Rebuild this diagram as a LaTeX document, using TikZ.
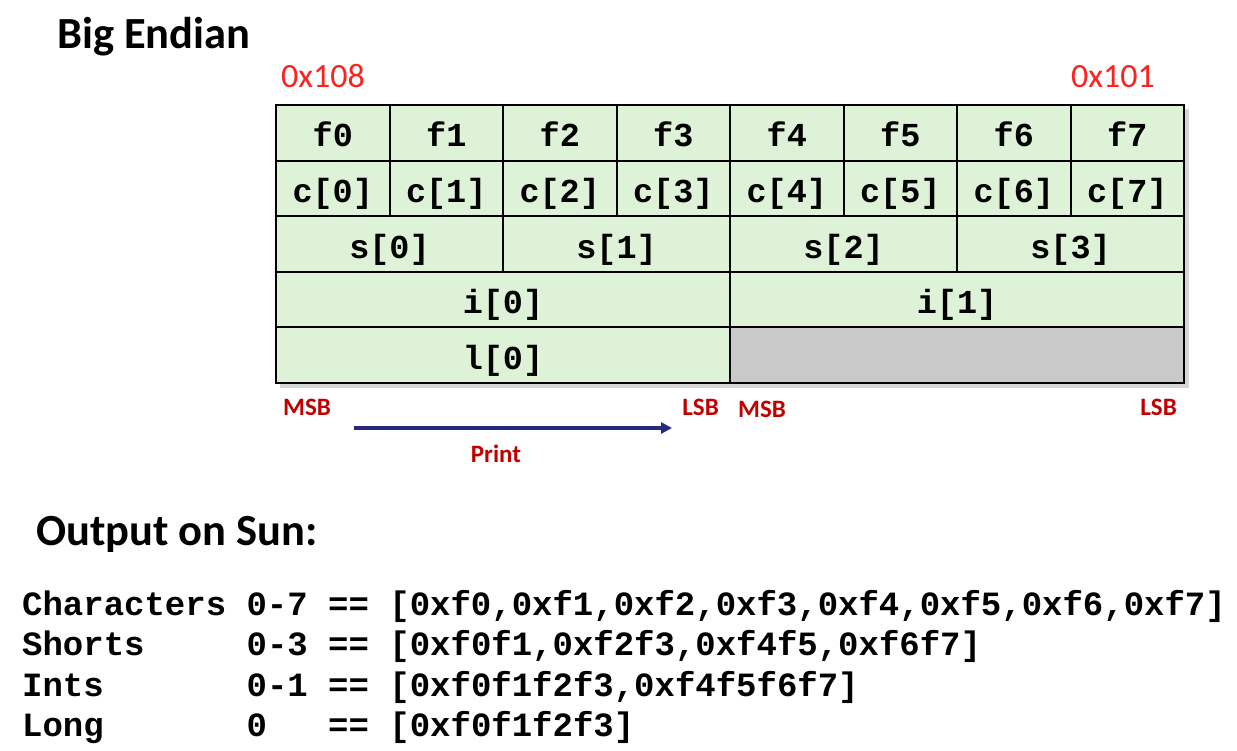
\documentclass[tikz,border=0pt]{standalone}
\usepackage{fontspec}
\setmainfont{Carlito}
\newfontfamily\codefont[WordSpace={1,0,0}]{Liberation Mono}
\usetikzlibrary{positioning,arrows.meta}

\definecolor{cellgreen}{HTML}{DDF2D7}
\definecolor{padgray}{HTML}{C9C9C9}
\definecolor{addrred}{HTML}{FF2020}
\definecolor{bitred}{HTML}{C00000}
\definecolor{printblue}{HTML}{242A7C}

\tikzset{
  cell/.style={draw, line width=2pt, fill=cellgreen, minimum height=55.6pt,
    inner sep=0pt, outer sep=0pt, text height=28pt, text depth=0pt,
    font=\codefont\bfseries\fontsize{33.5}{38}\selectfont},
  bytecell/.style={cell, minimum width=113.5pt},
  shortcell/.style={cell, minimum width=227pt},
  intcell/.style={cell, minimum width=454pt},
  heading/.style={inner sep=0pt, font=\bfseries\fontsize{44.5}{52}\selectfont},
  addr/.style={inner sep=0pt, text=addrred, font=\fontsize{34}{40}\selectfont},
  bitlabel/.style={inner sep=0pt, text=bitred, font=\bfseries\fontsize{25}{30}\selectfont},
  result/.style={inner sep=0pt, anchor=base west, font=\codefont\bfseries\fontsize{34}{40}\selectfont}
}

\begin{document}
\begin{tikzpicture}[x=1pt, y=-1pt]
    \useasboundingbox (0,0) rectangle (1237,750);
    % Title
    \node[heading, anchor=base west] (title) at (57,48) {Big Endian};
    % Addresses
    \node[addr, anchor=base west] (hiaddr) at (281,87) {0x108};
    \node[addr, anchor=base east] (loaddr) at (1155,87) {0x101};
    % Shadow
    \fill[black!16] (280,109) rectangle (1189,388);
    % Bytes
    \node[bytecell, anchor=north west] (f0) at (276,105) {f0};
    \node[bytecell, right=0pt of f0] (f1) {f1};
    \node[bytecell, right=0pt of f1] (f2) {f2};
    \node[bytecell, right=0pt of f2] (f3) {f3};
    \node[bytecell, right=0pt of f3] (f4) {f4};
    \node[bytecell, right=0pt of f4] (f5) {f5};
    \node[bytecell, right=0pt of f5] (f6) {f6};
    \node[bytecell, right=0pt of f6] (f7) {f7};
    % Chars
    \node[bytecell, below=0pt of f0] (c0) {c[0]};
    \node[bytecell, right=0pt of c0] (c1) {c[1]};
    \node[bytecell, right=0pt of c1] (c2) {c[2]};
    \node[bytecell, right=0pt of c2] (c3) {c[3]};
    \node[bytecell, right=0pt of c3] (c4) {c[4]};
    \node[bytecell, right=0pt of c4] (c5) {c[5]};
    \node[bytecell, right=0pt of c5] (c6) {c[6]};
    \node[bytecell, right=0pt of c6] (c7) {c[7]};
    % Shorts
    \node[shortcell, anchor=north west] (s0) at (c0.south west) {s[0]};
    \node[shortcell, right=0pt of s0] (s1) {s[1]};
    \node[shortcell, right=0pt of s1] (s2) {s[2]};
    \node[shortcell, right=0pt of s2] (s3) {s[3]};
    % Ints
    \node[intcell, anchor=north west] (i0) at (s0.south west) {i[0]};
    \node[intcell, right=0pt of i0] (i1) {i[1]};
    % Long
    \node[intcell, anchor=north west] (l0) at (i0.south west) {l[0]};
    \node[intcell, fill=padgray, right=0pt of l0] (pad) {};
    % Byte order
    \node[bitlabel, anchor=base west] (msb1) at (283,415) {MSB};
    \node[bitlabel, anchor=base east] (lsb1) at (719,415) {LSB};
    \node[bitlabel, anchor=base west] (msb2) at (738,417) {MSB};
    \node[bitlabel, anchor=base east] (lsb2) at (1177,415) {LSB};
    % Print direction
    \coordinate (pstart) at (354,428);
    \coordinate (pend) at (672,428);
    \draw[printblue, line width=4.5pt, -{Triangle[length=11pt,width=11pt]}] (pstart) -- (pend);
    \node[bitlabel, anchor=base] (print) at (496,462) {Print};
    % Output
    \node[heading, anchor=base west] (output) at (36,545) {Output on Sun:};
    \node[result] (chars) at (22,615) {Characters 0-7 == [0xf0,0xf1,0xf2,0xf3,0xf4,0xf5,0xf6,0xf7]};
    \node[result] (shorts) at (22,655.5) {Shorts~~~~~0-3 == [0xf0f1,0xf2f3,0xf4f5,0xf6f7]};
    \node[result] (ints) at (22,696) {Ints~~~~~~~0-1 == [0xf0f1f2f3,0xf4f5f6f7]};
    \node[result] (longs) at (22,736.5) {Long~~~~~~~0~~~== [0xf0f1f2f3]};
\end{tikzpicture}
\end{document}
